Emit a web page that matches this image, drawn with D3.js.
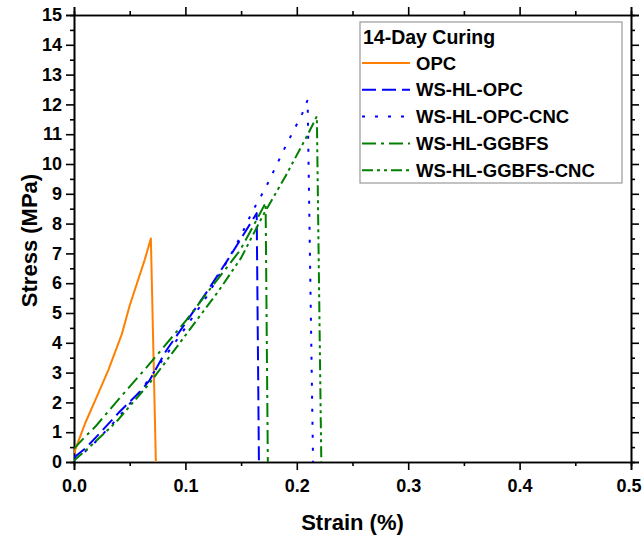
<!DOCTYPE html>
<html>
<head>
<meta charset="utf-8">
<script src="https://cdn.jsdelivr.net/npm/d3@7"></script>
<style>
  html, body { margin: 0; padding: 0; background: #fff; }
  svg { display: block; font-family: "Liberation Sans", Arial, sans-serif; }
</style>
</head>
<body>
<svg id="chart" width="642" height="535"></svg>
<script>
// Stress–strain curves, 14-day curing
const legendTitle = "14-Day Curing";
const seriesNames = ["OPC", "WS-HL-OPC", "WS-HL-OPC-CNC", "WS-HL-GGBFS", "WS-HL-GGBFS-CNC"];

// [strain %, stress MPa]
const opc = [[0,0.3],[0.005,0.8],[0.01,1.3],[0.02,2.15],[0.031,3.1],[0.043,4.3],[0.05,5.25],[0.0636,6.8],[0.069,7.5],[0.0735,0]];
const wsHlOpc = [[0,0.15],[0.01,0.45],[0.023,0.96],[0.04,1.65],[0.059,2.35],[0.068,2.75],[0.083,3.75],[0.098,4.55],[0.12,5.75],[0.14,6.9],[0.155,7.8],[0.164,8.35],[0.166,0]];
const wsHlOpcCnc = [[0,0.1],[0.01,0.35],[0.02,0.7],[0.04,1.5],[0.06,2.4],[0.08,3.45],[0.1,4.5],[0.12,5.6],[0.14,6.9],[0.15,7.6],[0.16,8.4],[0.172,9.2],[0.19,10.6],[0.205,11.7],[0.2097,12.15],[0.2146,0]];
const wsHlGgbfs = [[0,0.45],[0.01,0.85],[0.019,1.18],[0.04,2.1],[0.068,3.3],[0.101,4.77],[0.12,5.7],[0.149,7.1],[0.165,8.2],[0.172,8.7],[0.174,0]];
const wsHlGgbfsCnc = [[0,0.05],[0.014,0.5],[0.038,1.35],[0.068,2.65],[0.1,4.25],[0.13,5.75],[0.15,6.85],[0.17,8.3],[0.19,9.6],[0.21,11.0],[0.218,11.6],[0.222,0]];

const xTicks = [0, 0.1, 0.2, 0.3, 0.4, 0.5];
const yTicks = [0,1,2,3,4,5,6,7,8,9,10,11,12,13,14,15];

const series = [
  { name: seriesNames[0], data: opc,          color: "#ff8000", dash: null },
  { name: seriesNames[1], data: wsHlOpc,      color: "#0000ff", dash: "14,6" },
  { name: seriesNames[2], data: wsHlOpcCnc,   color: "#0000ff", dash: "3,10" },
  { name: seriesNames[3], data: wsHlGgbfs,    color: "#008000", dash: "14,5,3,5" },
  { name: seriesNames[4], data: wsHlGgbfsCnc, color: "#008000", dash: "11,4,3,4,3,4" }
];

const svg = d3.select("#chart");
const L = 74, R = 631, T = 15, B = 462;

const x = d3.scaleLinear().domain([0, 0.5]).range([L, R]);
const y = d3.scaleLinear().domain([0, 15]).range([B, T]);

const minorX = d3.range(0.05, 0.5, 0.1);
const minorY = d3.range(0.5, 15, 1);

function styleAxis(g) {
  g.select(".domain").attr("stroke", "#000").attr("stroke-width", 1.6);
  g.selectAll(".tick line").attr("stroke", "#000").attr("stroke-width", 1.6);
  g.selectAll(".tick text").attr("font-size", 18).attr("font-weight", "bold").attr("fill", "#000")
    .attr("font-family", "'Liberation Sans', Arial, sans-serif");
}

// minor ticks
svg.append("g").attr("transform", `translate(0,${B})`)
  .call(d3.axisBottom(x).tickValues(minorX).tickSize(4).tickFormat(""))
  .call(styleAxis);
svg.append("g").attr("transform", `translate(0,${T})`)
  .call(d3.axisTop(x).tickValues(minorX).tickSize(4).tickFormat(""))
  .call(styleAxis);
svg.append("g").attr("transform", `translate(${L},0)`)
  .call(d3.axisLeft(y).tickValues(minorY).tickSize(4).tickFormat(""))
  .call(styleAxis);
svg.append("g").attr("transform", `translate(${R},0)`)
  .call(d3.axisRight(y).tickValues(minorY).tickSize(4).tickFormat(""))
  .call(styleAxis);

// major ticks
const xAxisG = svg.append("g").attr("transform", `translate(0,${B})`)
  .call(d3.axisBottom(x).tickValues(xTicks).tickSize(8).tickPadding(9).tickFormat(d3.format(".1f")))
  .call(styleAxis);
// last label sits at the window edge: right-align it so it stays inside
xAxisG.selectAll(".tick text").filter(d => d === 0.5)
  .attr("text-anchor", "end").attr("x", 10);
svg.append("g").attr("transform", `translate(0,${T})`)
  .call(d3.axisTop(x).tickValues(xTicks).tickSize(8).tickFormat(""))
  .call(styleAxis);
svg.append("g").attr("transform", `translate(${L},0)`)
  .call(d3.axisLeft(y).tickValues(yTicks).tickSize(8).tickPadding(4).tickFormat(d3.format("d")))
  .call(styleAxis);
svg.append("g").attr("transform", `translate(${R},0)`)
  .call(d3.axisRight(y).tickValues(yTicks).tickSize(8).tickFormat(""))
  .call(styleAxis);

// curves
svg.append("clipPath").attr("id", "plotClip")
  .append("rect").attr("x", L).attr("y", T).attr("width", R - L).attr("height", B - T);

const line = d3.line().x(d => x(d[0])).y(d => y(d[1]));
const plot = svg.append("g").attr("clip-path", "url(#plotClip)");
series.forEach(s => {
  plot.append("path")
    .datum(s.data)
    .attr("d", line)
    .attr("fill", "none")
    .attr("stroke", s.color)
    .attr("stroke-width", 2)
    .attr("stroke-dasharray", s.dash)
    .attr("stroke-linejoin", "round");
});

// axis titles
svg.append("text")
  .attr("x", (L + R) / 2).attr("y", 530)
  .attr("text-anchor", "middle")
  .attr("font-size", 22).attr("font-weight", "bold")
  .text("Strain (%)");
svg.append("text")
  .attr("transform", `translate(37,${(T + B) / 2 + 2}) rotate(-90)`)
  .attr("text-anchor", "middle")
  .attr("font-size", 22).attr("font-weight", "bold")
  .text("Stress (MPa)");

// legend
const lg = svg.append("g");
lg.append("rect")
  .attr("x", 360).attr("y", 22).attr("width", 262).attr("height", 161)
  .attr("fill", "#fff").attr("stroke", "#999").attr("stroke-width", 1.2);
lg.append("text")
  .attr("x", 363).attr("y", 44)
  .attr("font-size", 19.5).attr("font-weight", "bold")
  .text(legendTitle);
series.forEach((s, i) => {
  const cy = 63 + i * 26.8;
  lg.append("line")
    .attr("x1", 362).attr("x2", 410).attr("y1", cy).attr("y2", cy)
    .attr("stroke", s.color).attr("stroke-width", 2)
    .attr("stroke-dasharray", s.dash);
  lg.append("text")
    .attr("x", 416).attr("y", cy + 6.5)
    .attr("font-size", 18.5).attr("font-weight", "bold")
    .text(s.name);
});
</script>
</body>
</html>
